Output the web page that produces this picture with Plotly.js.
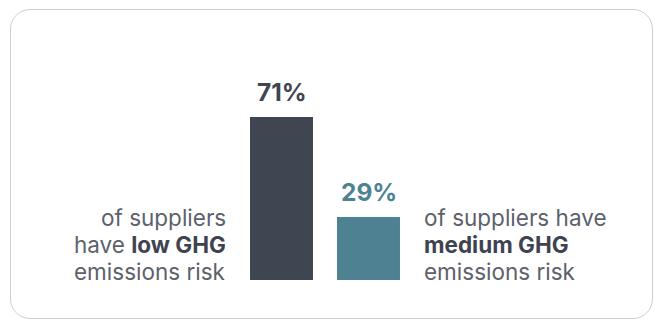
<!DOCTYPE html>
<html>
<head>
<meta charset="utf-8">
<script src="https://cdn.plot.ly/plotly-3.0.1.min.js"></script>
<style>
  html, body { margin: 0; padding: 0; background: #fff; }
  #chart { width: 656px; height: 323px; }
  #card { position: absolute; left: 10px; top: 9px; width: 643px; height: 310px;
          border: 1px solid #cfcfcf; border-radius: 20px; pointer-events: none; box-sizing: border-box; }
</style>
</head>
<body>
<div id="chart"></div>
<div id="card"></div>
<script>
const categories = ["low", "medium"];
const values = [71, 29];
const valueLabels = ["71%", "29%"];
const barColors = ["#404552", "#4e8293"];
const leftLines = ["of suppliers", "have <b>low GHG</b>", "emissions risk"];
const rightLines = ["of suppliers have", "<b>medium GHG</b>", "emissions risk"];

const trace = {
  type: "bar",
  x: categories,
  y: values,
  marker: { color: barColors },
  hoverinfo: "none"
};

const textFont = { family: "Inter, sans-serif", size: 22.5, color: "#5d616c" };
const lineShifts = [63, 36, 9];

const annotations = [];
values.forEach((v, i) => {
  annotations.push({
    x: categories[i], y: v, xref: "x", yref: "y",
    text: "<b>" + valueLabels[i] + "</b>",
    showarrow: false, yanchor: "bottom", yshift: 8,
    font: { family: "Inter, sans-serif", size: 24.5, color: barColors[i] }
  });
});
leftLines.forEach((t, k) => {
  annotations.push({
    x: -0.5, y: 0, xref: "x", yref: "paper",
    text: t.replace("<b>", "<b style='color:#3f4350'>"), showarrow: false,
    xanchor: "right", yanchor: "middle", align: "right", xshift: -10, yshift: lineShifts[k],
    font: textFont
  });
});
rightLines.forEach((t, k) => {
  annotations.push({
    x: 1.5, y: 0, xref: "x", yref: "paper",
    text: t.replace("<b>", "<b style='color:#3f4350'>"), showarrow: false,
    xanchor: "left", yanchor: "middle", align: "left", xshift: 10, yshift: lineShifts[k],
    font: textFont
  });
});

const layout = {
  width: 656, height: 323,
  margin: { l: 238, r: 244, t: 50, b: 43, pad: 0 },
  paper_bgcolor: "#ffffff", plot_bgcolor: "#ffffff",
  showlegend: false,
  bargap: 0.276,
  xaxis: { visible: false, range: [-0.5, 1.5], fixedrange: true },
  yaxis: { visible: false, range: [2.5, 99.1], fixedrange: true },
  annotations: annotations,
  font: { family: "Inter, sans-serif" }
};

Plotly.newPlot("chart", [trace], layout, { displayModeBar: false, staticPlot: true });
</script>
</body>
</html>
